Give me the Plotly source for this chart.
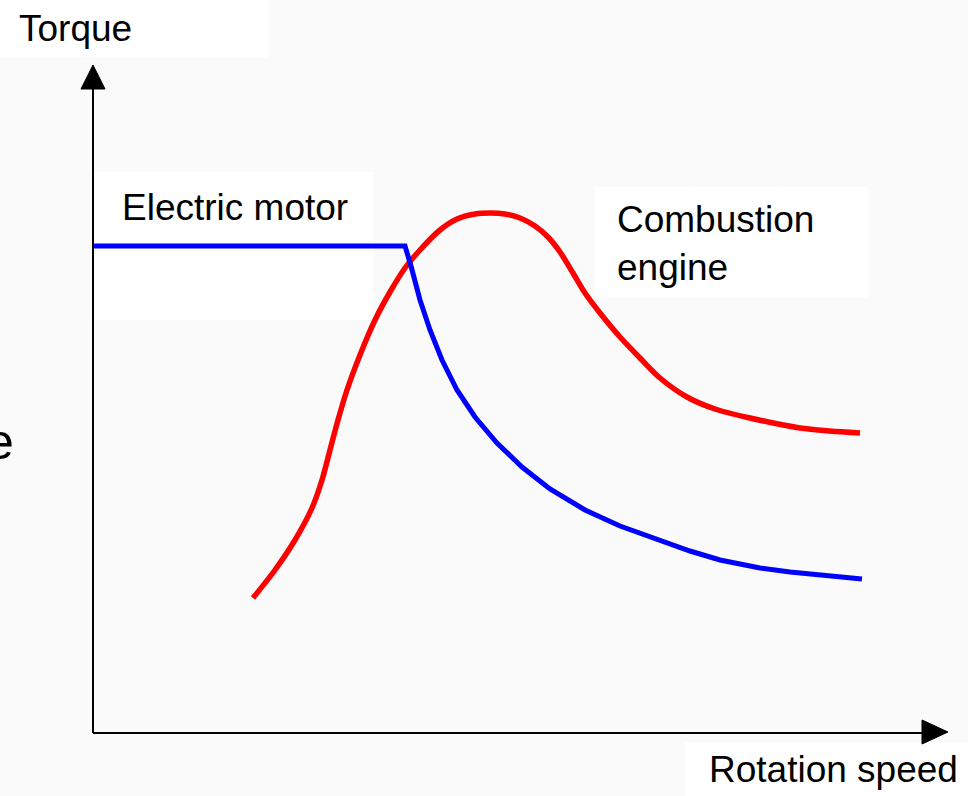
import plotly.graph_objects as go

# ---- data (arbitrary units, origin at the axes' corner) ----
motor_speed = [0, 312, 318, 327, 337, 349, 364, 382, 404, 429, 457, 492, 527, 557, 597, 627, 667, 697, 737, 769]
motor_torque = [487, 487, 467, 433, 403, 373, 343, 316, 290, 266, 244, 223, 207, 196, 182, 173, 165, 161, 157, 154]

engine_speed = [160, 182, 202, 219, 229, 237, 245, 254, 267, 282, 297, 312, 327, 347, 364, 382, 397, 412, 427,
                442, 455, 467, 480, 492, 507, 527, 547, 567, 594, 622, 657, 707, 737, 767]
engine_torque = [135, 163, 193, 225, 253, 283, 313, 343, 378, 413, 441, 465, 483, 503, 514, 519, 520, 519, 515,
                 507, 496, 481, 460, 440, 420, 396, 375, 355, 336, 324, 315, 305, 302, 300]

labels = ["Torque", "Rotation speed", "Electric motor", "Combustion<br>engine", "e"]

# ---- pixel helpers (layout only) ----
OX, OY = 93, 733
def X(px):
    return px - OX
def Y(py):
    return OY - py

FONT = "Liberation Sans, Arial, sans-serif"
BG = "#fafafa"

fig = go.Figure()
fig.add_trace(go.Scatter(x=engine_speed, y=engine_torque, mode="lines",
                         line=dict(color="#ff0000", width=5.5, shape="spline", smoothing=0.8),
                         hoverinfo="skip", showlegend=False))
fig.add_trace(go.Scatter(x=motor_speed, y=motor_torque, mode="lines",
                         line=dict(color="#0000ff", width=5),
                         hoverinfo="skip", showlegend=False))

shapes = []
# white label boxes
for (x0, y0, x1, y1) in [(0, 0, 268, 58), (95, 172, 373, 320), (595, 187, 868, 298), (685, 742, 968, 796)]:
    shapes.append(dict(type="rect", xref="x", yref="y", x0=X(x0), x1=X(x1), y0=Y(y0), y1=Y(y1),
                       fillcolor="white", line=dict(width=0), layer="below"))
# axes
shapes.append(dict(type="line", xref="x", yref="y", x0=X(93), y0=Y(733), x1=X(93), y1=Y(85),
                   line=dict(color="black", width=2), layer="above"))
shapes.append(dict(type="line", xref="x", yref="y", x0=X(93), y0=Y(733), x1=X(928), y1=Y(733),
                   line=dict(color="black", width=2), layer="above"))
# arrowheads
shapes.append(dict(type="path", xref="x", yref="y",
                   path=f"M {X(93)},{Y(65)} L {X(81)},{Y(89)} L {X(105)},{Y(89)} Z",
                   fillcolor="black", line=dict(color="black", width=1), layer="above"))
shapes.append(dict(type="path", xref="x", yref="y",
                   path=f"M {X(948)},{Y(732)} L {X(922)},{Y(720)} L {X(922)},{Y(744)} Z",
                   fillcolor="black", line=dict(color="black", width=1), layer="above"))

annotations = [
    dict(text=labels[0], x=X(18), y=Y(28), xanchor="left", yanchor="middle"),
    dict(text=labels[1], x=X(708), y=Y(769), xanchor="left", yanchor="middle"),
    dict(text=labels[2], x=X(121), y=Y(207), xanchor="left", yanchor="middle"),
    dict(text=labels[3], x=X(616), y=Y(243), xanchor="left", yanchor="middle", align="left"),
]
annotations = [dict(a, xref="x", yref="y", showarrow=False, borderpad=0,
                    font=dict(family=FONT, size=37, color="black")) for a in annotations]
annotations.append(dict(text=labels[4], x=X(15), y=Y(442), xanchor="right", yanchor="middle",
                        xref="x", yref="y", showarrow=False, borderpad=0,
                        font=dict(family=FONT, size=50, color="black")))

fig.update_layout(
    width=968, height=796, autosize=False,
    margin=dict(l=0, r=0, t=0, b=0, pad=0),
    paper_bgcolor=BG, plot_bgcolor=BG,
    xaxis=dict(range=[X(0), X(968)], visible=False, fixedrange=True),
    yaxis=dict(range=[Y(796), Y(0)], visible=False, fixedrange=True),
    shapes=shapes, annotations=annotations,
    showlegend=False,
)

fig.write_html("out.html", config={"displayModeBar": False},
               post_script="document.body.style.margin='0';document.body.style.overflow='hidden';")
